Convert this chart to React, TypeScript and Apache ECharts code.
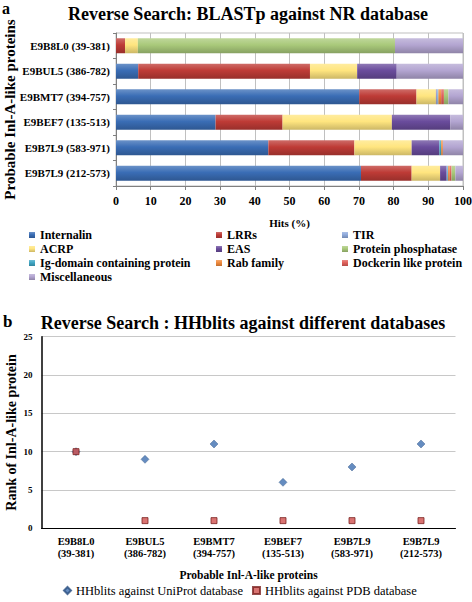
import React, { useEffect, useRef } from "react";
import * as echarts from "echarts";

// ---------- Panel a data ----------
const categoriesA = [
  "E9B8L0 (39-381)",
  "E9BUL5 (386-782)",
  "E9BMT7 (394-757)",
  "E9BEF7 (135-513)",
  "E9B7L9 (583-971)",
  "E9B7L9 (212-573)",
];
const hitTicks = [0, 10, 20, 30, 40, 50, 60, 70, 80, 90, 100];
const internalin = [0, 6.4, 70.1, 28.7, 43.9, 70.6];
const lrrs = [2.6, 49.5, 16.5, 19.3, 24.8, 14.6];
const acrp = [3.7, 13.6, 5.6, 31.5, 16.5, 8.2];
const eas = [0, 11.4, 0.2, 16.8, 8.0, 1.9];
const tir = [0, 0, 0.3, 0, 0, 0.2];
const igDomain = [0, 0, 0.2, 0, 0.5, 0.2];
const rabFamily = [0, 0, 0.8, 0, 0.5, 0.5];
const dockerin = [0, 0, 0.8, 0, 0, 0.5];
const phosphatase = [74.1, 0, 1.3, 0, 0, 1.1];
const miscellaneous = [19.6, 19.1, 4.2, 3.7, 5.8, 2.2];

// ---------- Panel b data ----------
const categoriesB = [
  "E9B8L0\n(39-381)",
  "E9BUL5\n(386-782)",
  "E9BMT7\n(394-757)",
  "E9BEF7\n(135-513)",
  "E9B7L9\n(583-971)",
  "E9B7L9\n(212-573)",
];
const rankTicks = [0, 5, 10, 15, 20, 25];
const uniprotRank = [10, 9, 11, 6, 8, 11];
const pdbRank = [10, 1, 1, 1, 1, 1];

const serif = '"Liberation Serif", "Times New Roman", serif';

function mix(hex: string, target: number, t: number) {
  const n = parseInt(hex.slice(1), 16);
  const r = (n >> 16) & 255, g = (n >> 8) & 255, b = n & 255;
  const f = (c: number) => Math.round(c + (target - c) * t);
  return `rgb(${f(r)},${f(g)},${f(b)})`;
}
function grad(hex: string) {
  return {
    type: "linear", x: 0, y: 0, x2: 0, y2: 1,
    colorStops: [
      { offset: 0, color: mix(hex, 255, 0.25) },
      { offset: 0.45, color: hex },
      { offset: 1, color: mix(hex, 0, 0.2) },
    ],
  };
}

const seriesDefs: [string, number[], string][] = [
  ["Internalin", internalin, "#3A6DB5"],
  ["LRRs", lrrs, "#BE3B36"],
  ["ACRP", acrp, "#FFE57F"],
  ["EAS", eas, "#6A4C9C"],
  ["TIR", tir, "#8FAADC"],
  ["Ig-domain containing protein", igDomain, "#3FA6C4"],
  ["Rab family", rabFamily, "#F08A3C"],
  ["Dockerin like protein", dockerin, "#E0605A"],
  ["Protein phosphatase", phosphatase, "#A9C97A"],
  ["Miscellaneous", miscellaneous, "#B3A5D1"],
];

export default function App() {
  const ref = useRef<HTMLDivElement>(null);
  useEffect(() => {
    if (!ref.current) return;
    const chart = echarts.init(ref.current, undefined, { renderer: "svg" });
    const legendText = {
      fontFamily: serif, fontWeight: "bold", fontSize: 12, color: "#000", lineHeight: 12,
    };
    const legendA = (left: number, data: string[]) => ({
      orient: "vertical", left, top: 229, padding: 0, itemWidth: 6, itemHeight: 6, itemGap: 2,
      selectedMode: false, icon: "rect", data, textStyle: legendText,
    });
    const option: any = {
      animation: false,
      backgroundColor: "#fff",
      graphic: [
        { type: "text", left: 2, top: 0, style: { text: "a", font: `bold 16px ${serif}`, fill: "#000" } },
        { type: "text", left: 3, top: 313, style: { text: "b", font: `bold 17px ${serif}`, fill: "#000" } },
        { type: "text", x: 248, y: 14, style: { text: "Reverse Search: BLASTp against NR database", font: `bold 18px ${serif}`, fill: "#000", align: "center", verticalAlign: "middle" } },
        { type: "text", x: 243, y: 323, style: { text: "Reverse Search : HHblits against different databases", font: `bold 18px ${serif}`, fill: "#000", align: "center", verticalAlign: "middle" } },
      ],
      legend: [
        legendA(29, ["Internalin", "ACRP", "Ig-domain containing protein", "Miscellaneous"]),
        legendA(216, ["LRRs", "EAS", "Rab family"]),
        legendA(342, ["TIR", "Protein phosphatase", "Dockerin like protein"]),
        {
          orient: "horizontal", left: 63, top: 584, padding: 0, itemWidth: 7, itemHeight: 7, itemGap: 9,
          selectedMode: false, data: ["HHblits against UniProt database", "HHblits against PDB database"],
          textStyle: { fontFamily: serif, fontSize: 12.5, color: "#000" },
        },
      ],
      grid: [
        { left: 116, top: 33, width: 347, height: 153, show: true, borderColor: "#bfbfbf", borderWidth: 1, outerBoundsMode: "none", containLabel: false },
        { left: 41.5, top: 336.7, width: 414, height: 191.6, outerBoundsMode: "none", containLabel: false },
      ],
      xAxis: [
        {
          type: "value", gridIndex: 0, min: hitTicks[0], max: hitTicks[hitTicks.length - 1], interval: 10,
          axisLine: { show: true, lineStyle: { color: "#808080" } },
          axisTick: { show: true, length: 4, lineStyle: { color: "#808080" } },
          splitLine: { show: true, lineStyle: { color: "#c0c0c0" } },
          axisLabel: { fontFamily: serif, fontWeight: "bold", fontSize: 12, color: "#000", margin: 9 },
          name: "Hits (%)", nameLocation: "middle", nameGap: 31, nameMoveOverlap: false,
          nameTextStyle: { fontFamily: serif, fontWeight: "bold", fontSize: 11, color: "#000" },
        },
        {
          type: "category", gridIndex: 1, data: categoriesB,
          axisLine: { show: true, lineStyle: { color: "#000" } },
          axisTick: { show: false },
          axisLabel: { fontFamily: serif, fontWeight: "bold", fontSize: 10.5, color: "#000", lineHeight: 12, margin: 7 },
          name: "Probable Inl-A-like proteins", nameLocation: "middle", nameGap: 41, nameMoveOverlap: false,
          nameTextStyle: { fontFamily: serif, fontWeight: "bold", fontSize: 11.5, color: "#000" },
        },
      ],
      yAxis: [
        {
          type: "category", gridIndex: 0, data: categoriesA, inverse: true,
          axisLine: { show: true, lineStyle: { color: "#808080" } },
          axisTick: { show: true, length: 3, lineStyle: { color: "#808080" } },
          axisLabel: { fontFamily: serif, fontWeight: "bold", fontSize: 11, color: "#000", margin: 6 },
          name: "Probable Inl-A-like proteins", nameLocation: "middle", nameGap: 99, nameRotate: 90, nameMoveOverlap: false,
          nameTextStyle: { fontFamily: serif, fontWeight: "bold", fontSize: 15, color: "#000" },
        },
        {
          type: "value", gridIndex: 1, min: rankTicks[0], max: rankTicks[rankTicks.length - 1], interval: 5,
          axisLine: { show: true, lineStyle: { color: "#000", width: 1.5 } },
          axisTick: { show: false },
          splitLine: { show: true, lineStyle: { color: "#c8c8c8" } },
          axisLabel: { fontFamily: serif, fontWeight: "bold", fontSize: 9, color: "#000", margin: 9 },
          name: "Rank of Inl-A-like protein", nameLocation: "middle", nameGap: 23, nameRotate: 90, nameMoveOverlap: false,
          nameTextStyle: { fontFamily: serif, fontWeight: "bold", fontSize: 14, color: "#000" },
        },
      ],
      series: [
        ...seriesDefs.map(([name, data, color]) => ({
          name, type: "bar", stack: "hits", xAxisIndex: 0, yAxisIndex: 0, data,
          barWidth: 15, color,
          itemStyle: { color: grad(color) },
        })),
        {
          name: "HHblits against UniProt database", type: "scatter", xAxisIndex: 1, yAxisIndex: 1,
          data: uniprotRank, symbol: "diamond", symbolSize: 8, color: "#3E6FB0",
          itemStyle: { color: "#3E6FB0", borderColor: "#2A4F80", borderWidth: 0.5 },
        },
        {
          name: "HHblits against PDB database", type: "scatter", xAxisIndex: 1, yAxisIndex: 1,
          data: pdbRank, symbol: "rect", symbolSize: 6, color: "#C0504D",
          itemStyle: { color: "#D0504D", borderColor: "#7A2220", borderWidth: 1 },
        },
      ],
    };
    chart.setOption(option);
    return () => chart.dispose();
  }, []);
  return (
    <div
      ref={ref}
      style={{ position: "absolute", left: 0, top: 0, width: 472, height: 602 }}
    />
  );
}
